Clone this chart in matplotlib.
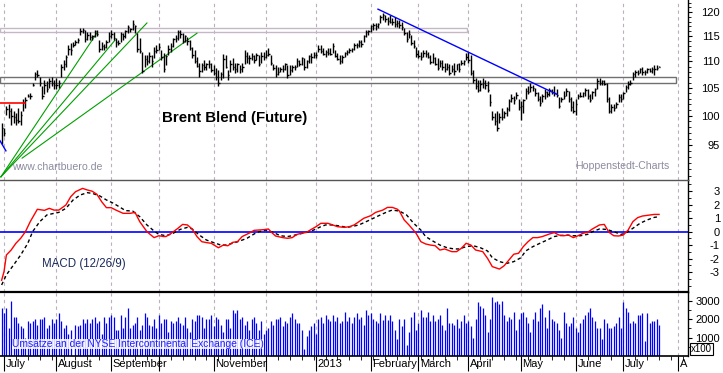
import numpy as np
import pandas as pd
import matplotlib
matplotlib.use("Agg")
import matplotlib.pyplot as plt
from matplotlib.patches import Rectangle
from matplotlib.ticker import FixedLocator, NullFormatter, FixedFormatter

plt.rcParams['font.family'] = ['Liberation Sans', 'DejaVu Sans']

# ---------------- data ----------------
first_session = "2012-06-29"
last_axis_day = "2013-08-09"

high_jul12 = [98.8, 97.9, 101.8, 102.1, 101.3, 100.9, 100.5, 101.3, 100.8, 103.0, 103.4, 103.9, 104.0, 106.0, 108.0, 108.3, 107.1, 105.3, 106.5, 106.2, 106.9, 107.1, 106.5]
low_jul12 = [95.2, 96.5, 100.1, 99.6, 98.4, 98.8, 98.4, 98.8, 98.4, 100.8, 101.3, 103.4, 103.0, 105.3, 106.5, 107.0, 105.3, 103.0, 103.9, 104.3, 105.0, 105.3, 104.8]
close_jul12 = [97.8, 97.0, 101.2, 100.8, 100.0, 99.8, 99.3, 99.0, 100.2, 102.4, 102.8, 103.6, 103.5, 105.6, 107.6, 107.5, 106.0, 103.5, 105.5, 104.8, 106.3, 106.0, 105.5]
high_aug12 = [106.9, 106.5, 109.6, 110.2, 111.2, 113.2, 113.6, 113.8, 114.2, 114.7, 116.7, 116.7, 116.3, 115.9, 115.9, 115.3, 116.3, 116.3, 114.2, 113.8, 113.4, 114.2, 115.9]
low_aug12 = [104.8, 105.0, 107.1, 108.3, 108.9, 111.2, 111.2, 112.8, 113.2, 113.6, 115.3, 115.7, 113.8, 114.2, 114.2, 114.2, 114.9, 115.0, 111.8, 112.2, 112.2, 112.6, 113.8]
close_aug12 = [105.5, 105.9, 109.0, 109.5, 110.8, 112.5, 112.2, 113.3, 113.8, 114.3, 116.0, 116.3, 114.5, 115.2, 114.8, 115.0, 116.0, 115.5, 112.5, 113.0, 112.8, 113.8, 115.0]
high_sep12 = [116.3, 115.9, 114.7, 114.2, 115.9, 115.7, 116.3, 117.3, 116.7, 118.3, 117.3, 115.7, 114.7, 111.8, 111.2, 111.2, 111.8, 111.2, 112.8, 113.2]
low_sep12 = [114.7, 114.2, 112.8, 113.2, 113.8, 114.2, 114.7, 115.7, 115.9, 116.3, 115.7, 111.8, 111.6, 107.7, 108.9, 109.3, 109.8, 108.9, 110.6, 111.6]
close_sep12 = [115.5, 114.7, 113.8, 113.7, 115.5, 115.0, 116.0, 116.8, 116.5, 117.5, 117.0, 112.5, 112.0, 108.2, 110.5, 110.0, 111.0, 110.0, 112.0, 112.2]
high_oct12 = [113.6, 112.2, 111.6, 111.2, 113.2, 113.6, 114.7, 115.3, 116.3, 116.3, 115.7, 115.3, 114.9, 114.2, 112.8, 112.2, 110.8, 109.8, 109.8, 110.2, 109.8, 110.2, 109.8]
low_oct12 = [112.2, 110.2, 108.0, 109.3, 111.2, 111.8, 112.8, 113.8, 114.2, 114.7, 113.6, 113.8, 113.2, 112.2, 110.6, 109.8, 108.9, 107.1, 108.0, 108.3, 108.3, 108.7, 108.0]
close_oct12 = [112.8, 110.8, 108.5, 111.0, 112.5, 113.0, 114.5, 114.6, 115.8, 115.5, 114.0, 115.0, 114.0, 112.6, 111.2, 110.0, 109.2, 108.2, 109.3, 109.0, 109.6, 109.5, 108.4]
high_nov12 = [109.3, 108.7, 108.3, 108.0, 111.4, 111.2, 108.3, 110.2, 110.6, 109.8, 109.8, 109.3, 109.8, 112.2, 111.8, 111.2, 111.6, 111.2, 111.6, 111.2, 111.8, 111.8]
low_nov12 = [107.4, 106.5, 105.3, 106.5, 106.9, 108.7, 106.5, 108.0, 108.3, 107.8, 108.0, 107.8, 108.0, 109.6, 109.8, 109.6, 110.2, 109.8, 110.2, 109.1, 109.8, 110.2]
close_nov12 = [107.8, 107.0, 105.9, 107.6, 110.5, 109.0, 107.5, 109.5, 109.0, 108.5, 109.5, 108.6, 108.9, 111.0, 110.7, 110.6, 111.0, 110.2, 111.3, 109.5, 111.0, 110.9]
high_dec12 = [112.2, 112.6, 111.2, 109.6, 109.3, 108.9, 108.9, 109.3, 109.8, 109.3, 109.3, 109.3, 109.3, 110.6, 110.2, 110.8, 110.6, 110.2, 111.2, 111.6, 111.8]
low_dec12 = [110.6, 111.0, 109.3, 108.3, 107.1, 107.4, 108.0, 108.0, 108.3, 106.9, 107.4, 108.0, 108.3, 108.9, 109.1, 109.3, 108.3, 108.7, 109.8, 109.8, 110.6]
close_dec12 = [111.3, 111.5, 109.8, 108.8, 107.6, 108.0, 108.6, 108.5, 109.5, 107.5, 108.3, 108.9, 108.9, 110.0, 109.6, 110.6, 109.0, 110.0, 111.0, 110.9, 111.3]
high_jan13 = [111.8, 113.2, 113.2, 112.6, 112.2, 112.6, 112.6, 113.6, 112.2, 111.6, 111.2, 111.2, 111.8, 112.2, 112.6, 112.6, 113.6, 113.6, 114.2, 114.2, 115.3, 116.3, 116.3]
low_jan13 = [110.6, 111.8, 111.6, 111.2, 110.8, 111.2, 111.2, 111.6, 110.8, 110.2, 109.6, 109.8, 110.8, 111.2, 111.6, 111.8, 112.2, 112.6, 112.8, 112.8, 113.8, 114.9, 115.3]
close_jan13 = [111.2, 112.5, 112.0, 111.5, 111.8, 111.6, 111.5, 113.0, 111.0, 110.5, 110.0, 110.9, 111.6, 111.9, 112.3, 112.4, 113.2, 113.3, 113.8, 113.5, 115.0, 115.8, 116.0]
high_feb13 = [117.3, 117.7, 117.7, 117.7, 119.4, 119.8, 119.4, 118.9, 119.4, 118.7, 118.9, 118.3, 118.3, 117.9, 116.7, 115.9, 116.3, 115.3, 114.2, 112.8]
low_feb13 = [115.9, 116.3, 116.3, 116.7, 117.7, 118.3, 117.9, 117.3, 117.7, 117.3, 116.9, 116.9, 116.7, 116.3, 115.3, 113.8, 114.7, 113.2, 112.6, 110.8]
close_feb13 = [117.0, 117.2, 117.0, 117.4, 118.9, 119.3, 118.5, 118.2, 118.0, 118.0, 117.5, 117.8, 117.2, 116.8, 115.6, 114.5, 115.5, 113.6, 113.0, 111.5]
high_mar13 = [112.2, 111.8, 112.2, 112.2, 111.8, 111.2, 111.6, 110.8, 110.6, 110.2, 110.2, 109.8, 109.8, 109.6, 109.3, 109.8, 109.6, 109.8, 110.2, 110.2, 111.6]
low_mar13 = [110.6, 110.2, 110.8, 110.8, 110.6, 109.6, 109.8, 109.3, 108.3, 108.9, 108.3, 108.0, 108.3, 107.4, 108.0, 107.4, 108.3, 108.0, 109.3, 109.3, 110.2]
close_mar13 = [111.0, 110.8, 111.6, 111.5, 110.8, 109.9, 110.6, 109.5, 108.8, 109.8, 109.0, 108.6, 109.0, 107.8, 108.6, 108.2, 109.5, 108.5, 109.8, 110.0, 110.8]
high_apr13 = [111.8, 111.2, 108.3, 106.9, 106.5, 106.5, 106.9, 106.5, 106.2, 103.9, 100.9, 100.5, 100.8, 100.5, 101.3, 100.9, 101.6, 103.0, 103.9, 103.6, 104.3, 103.0]
low_apr13 = [109.8, 107.4, 106.0, 104.8, 104.3, 104.5, 105.0, 104.8, 104.3, 101.8, 99.3, 98.3, 97.4, 98.8, 99.3, 99.6, 99.9, 100.8, 102.5, 102.1, 103.0, 101.0]
close_apr13 = [110.2, 107.8, 106.5, 105.4, 104.6, 105.8, 106.0, 105.5, 104.6, 102.5, 99.8, 99.0, 97.8, 99.8, 99.8, 100.5, 101.2, 102.6, 103.2, 102.8, 103.7, 101.5]
high_may13 = [102.6, 103.0, 105.0, 105.3, 106.0, 105.6, 105.0, 104.3, 103.6, 103.9, 104.8, 104.5, 105.0, 104.8, 105.3, 104.8, 103.4, 103.4, 104.5, 105.0, 104.5, 103.4, 102.6]
low_may13 = [99.3, 100.5, 103.0, 103.9, 104.3, 104.5, 103.6, 102.6, 101.8, 102.5, 103.0, 103.4, 103.6, 103.9, 103.6, 103.4, 101.3, 102.5, 103.0, 103.6, 102.5, 100.9, 100.5]
close_may13 = [101.8, 102.8, 104.5, 104.2, 105.2, 105.0, 104.0, 103.0, 102.2, 103.5, 104.2, 103.8, 104.6, 104.3, 104.0, 103.7, 101.8, 102.9, 103.6, 104.4, 103.0, 101.5, 100.9]
high_jun13 = [103.0, 103.9, 104.3, 104.3, 105.0, 104.8, 103.9, 104.5, 105.0, 106.9, 106.9, 106.5, 106.5, 106.0, 103.4, 102.1, 102.1, 102.5, 103.9, 103.9]
low_jun13 = [100.1, 103.0, 103.4, 103.4, 103.6, 103.0, 102.5, 103.0, 103.6, 104.8, 105.6, 105.6, 105.6, 102.5, 100.5, 100.5, 100.8, 101.3, 102.5, 102.5]
close_jun13 = [102.0, 103.6, 103.5, 104.0, 104.6, 103.5, 102.8, 104.2, 104.8, 106.3, 106.0, 106.2, 105.8, 103.0, 100.9, 101.6, 101.3, 102.1, 103.3, 103.0]
high_jul13 = [104.3, 105.6, 106.2, 106.5, 108.0, 108.3, 108.3, 108.7, 108.9, 108.3, 108.7, 108.7, 108.9, 109.3, 109.3, 109.1]
low_jul13 = [103.0, 104.3, 104.8, 105.6, 106.5, 107.1, 107.4, 107.8, 107.4, 107.4, 107.8, 108.0, 107.8, 107.4, 108.3, 108.9]
close_jul13 = [104.0, 105.1, 105.8, 106.0, 107.6, 107.9, 107.8, 108.5, 107.9, 108.0, 108.5, 108.2, 108.6, 108.6, 108.8, 109.0]

volume = [
    2600, 2300, 2600, 1500, 3000, 2100, 2100, 1800, 1600, 1500, 1000, 1900, 1800, 1900, 2000, 1700, 2000, 2000, 2100, 1500, 1700, 2000, 1800,
    2000, 2300, 1900, 1500, 1700, 1200, 1400, 0, 1700, 1600, 1700, 2000, 1800, 2000, 1800, 2000, 2100, 1800, 1900, 1200, 2100, 1800, 2100,
    2200, 2100, 1400, 1400, 2200, 1500, 2100, 2600, 1500, 1700, 1800, 2100, 1400, 1700, 2300, 2100, 1700, 1600, 2000, 1500,
    2200, 1800, 2000, 2000, 1300, 1900, 1800, 1900, 2100, 1800, 1700, 2100, 1500, 1300, 2000, 1900, 2200, 2200, 2100, 1500, 2000, 2000, 2200,
    1600, 2100, 2000, 1700, 1300, 2000, 2000, 1500, 2500, 2300, 2500, 2000, 2100, 1700, 1900, 1400, 2000, 2100, 1800, 1400, 1900, 1200,
    1400, 1500, 1900, 1700, 2000, 2000, 2100, 1600, 1900, 1800, 2100, 2300, 2000, 1800, 1800, 1400, 400, 1100, 1400, 1600, 1800,
    1200, 2000, 2100, 1800, 2200, 2000, 1900, 2200, 1900, 2100, 1800, 1900, 2400, 1900, 2100, 1800, 2100, 2300, 2000, 2100, 1700, 2500, 2200,
    2300, 2000, 1900, 1800, 2300, 1950, 2200, 1950, 2200, 1900, 1400, 900, 2000, 1600, 2000, 600, 1300, 2100, 2400, 1400,
    1800, 2500, 2100, 2100, 2400, 1900, 2200, 1900, 2000, 2200, 1700, 1400, 2600, 1800, 1800, 1700, 2000, 1500, 1900, 2200, 1800,
    1900, 1600, 1000, 2000, 2900, 2700, 2600, 2200, 1300, 2000, 3200, 2900, 3000, 2800, 3000, 2200, 1900, 2100, 2000, 2400, 1400, 2000,
    2300, 2400, 2100, 1800, 1300, 2000, 2400, 1900, 2600, 2800, 2100, 1500, 2500, 2000, 1900, 1800, 1400, 1000, 2400, 1800, 1600, 1800, 2100,
    1500, 1300, 1800, 2000, 2200, 2400, 2600, 2100, 1900, 1500, 1500, 900, 2000, 1800, 1500, 1500, 1600, 1800, 2100, 1500,
    2900, 2600, 2400, 1800, 1900, 1800, 2200, 2200, 2300, 800, 2300, 1800, 1900, 1900, 2000, 1700,
]

# MACD (session number, value)
macd_session = [0, 1, 2, 4, 6, 8, 10, 12, 14, 15, 18, 20, 22, 24, 27, 29, 31, 34, 36, 38, 40, 42, 44, 46, 48, 51, 54, 56, 58, 61,
                64, 66, 68, 69, 71, 74, 76, 78, 80, 82, 84, 86, 88, 91, 93, 95, 97, 99, 101, 104, 106, 110, 112, 113, 115, 118,
                120, 122, 124, 126, 128, 130, 132, 134, 137, 139, 141, 144, 146, 148, 150, 152, 155, 157, 160, 162, 164, 166, 167,
                169, 171, 174, 176, 178, 180, 182, 184, 186, 189, 191, 193, 195, 197, 199, 202, 204, 206, 209, 211, 213, 215, 217,
                219, 221, 223, 225, 227, 230, 232, 234, 236, 238, 240, 242, 244, 246, 248, 251, 253, 255, 257, 259, 261, 263, 265,
                267, 269, 272, 274, 276]
macd_value = [-3.6, -2.96, -1.73, -1.36, -0.86, -0.49, 0.0, 0.74, 1.36, 1.66, 1.58, 1.73, 1.6, 1.6, 1.98, 2.59, 2.96, 3.21, 3.09,
              3.0, 2.77, 2.22, 1.78, 1.78, 1.6, 1.36, 1.36, 1.43, 0.74, 0.0, -0.44, -0.3, -0.36, -0.36, -0.15, 0.25, 0.54, 0.5,
              0.2, -0.36, -0.74, -0.81, -0.86, -1.19, -1.0, -1.04, -0.79, -0.74, -0.36, -0.1, 0.1, 0.15, 0.2, 0.0, -0.32, -0.44,
              -0.49, -0.44, -0.2, -0.12, -0.05, 0.17, 0.37, 0.62, 0.62, 0.5, 0.37, 0.32, 0.37, 0.5, 0.74, 0.99, 1.19, 1.43, 1.6,
              1.8, 1.8, 1.68, 1.53, 0.87, 0.5, -0.12, -0.74, -0.91, -0.99, -1.04, -1.36, -1.28, -1.48, -1.48, -1.23, -0.86, -0.99,
              -1.36, -1.48, -1.98, -2.59, -2.77, -2.52, -2.1, -1.67, -1.6, -1.11, -0.74, -0.44, -0.44, -0.36, -0.17, -0.07, -0.25,
              -0.3, -0.25, -0.44, -0.3, -0.12, -0.05, 0.2, 0.5, 0.54, -0.05, -0.3, -0.32, -0.25, 0.12, 0.74, 1.04, 1.16, 1.23,
              1.28, 1.28]
signal_session = [0, 2, 5, 8, 11, 13, 16, 19, 22, 24, 27, 30, 33, 36, 38, 41, 44, 47, 50, 52, 55, 58, 61, 64, 66, 69, 72, 75, 78,
                  80, 83, 86, 89, 92, 94, 97, 100, 103, 106, 108, 111, 114, 117, 120, 122, 125, 128, 131, 134, 136, 139, 142, 145,
                  148, 150, 153, 156, 159, 162, 164, 167, 170, 173, 176, 178, 181, 184, 187, 190, 192, 195, 198, 201, 204, 206, 209,
                  212, 215, 218, 220, 223, 226, 229, 232, 234, 237, 240, 243, 246, 248, 251, 254, 257, 260, 262, 265, 268, 271, 274,
                  276]
signal_value = [-3.95, -3.2, -2.47, -1.73, -0.86, 0.0, 0.74, 1.24, 1.36, 1.43, 1.73, 2.35, 2.72, 2.89, 2.84, 2.67, 2.35, 2.1, 1.78,
                1.56, 1.53, 1.11, 0.5, 0.05, -0.2, -0.3, -0.12, 0.17, 0.32, 0.2, -0.25, -0.62, -0.81, -0.99, -0.99, -0.86, -0.69,
                -0.49, -0.17, 0.0, 0.12, -0.05, -0.3, -0.36, -0.3, -0.17, -0.05, 0.12, 0.37, 0.5, 0.5, 0.42, 0.32, 0.42, 0.5, 0.74,
                0.99, 1.24, 1.48, 1.6, 1.53, 1.24, 0.62, 0.12, -0.36, -0.69, -0.99, -1.19, -1.28, -1.28, -1.11, -1.04, -1.19, -1.43,
                -1.93, -2.22, -2.35, -2.22, -1.93, -1.43, -1.11, -0.86, -0.62, -0.36, -0.3, -0.25, -0.3, -0.3, -0.2, 0.0, 0.2, 0.17,
                0.0, -0.2, -0.12, 0.25, 0.62, 0.87, 1.06, 1.11]

month_labels = ["July", "August", "September", "", "November", "", "2013", "February", "March", "April", "May", "June", "July", "A"]

# drawing annotations (session number, price)
fan_lines = [((-0.3, 89.8), (40.0, 115.65)), ((-0.3, 89.8), (47.6, 114.2)),
             ((-0.3, 89.8), (61.0, 117.7)), ((8.6, 92.8), (82.0, 115.6))]
trend_line = ((158.0, 120.6), (233.2, 103.8))
small_blue = ((-0.7, 95.7), (1.8, 94.0))
red_level = ((-0.7, 9.8), 102.3)
upper_band = ((-0.7, 195.4), (115.8, 116.6))
lower_band = ((-0.7, 283.1), (105.9, 107.0))

# ---------------- assemble ----------------
high = np.array(high_jul12 + high_aug12 + high_sep12 + high_oct12 + high_nov12 + high_dec12 + high_jan13 +
                high_feb13 + high_mar13 + high_apr13 + high_may13 + high_jun13 + high_jul13)
low = np.array(low_jul12 + low_aug12 + low_sep12 + low_oct12 + low_nov12 + low_dec12 + low_jan13 +
               low_feb13 + low_mar13 + low_apr13 + low_may13 + low_jun13 + low_jul13)
close = np.array(close_jul12 + close_aug12 + close_sep12 + close_oct12 + close_nov12 + close_dec12 + close_jan13 +
                 close_feb13 + close_mar13 + close_apr13 + close_may13 + close_jun13 + close_jul13)
n = len(high)
sess = np.arange(n)
vol = np.array(volume[:n])

cal = pd.bdate_range(first_session, last_axis_day)
month_starts = [i for i in range(1, len(cal)) if cal[i].month != cal[i - 1].month]
mondays = [i for i in range(len(cal)) if cal[i].weekday() == 0]

# ---------------- figure ----------------
W, H = 723, 373
fig = plt.figure(figsize=(W / 100, H / 100), dpi=100)
fig.patch.set_facecolor('white')
right_px = 688
ax1 = fig.add_axes([0, 193 / H, right_px / W, 180 / H])
ax2 = fig.add_axes([0, 81 / H, right_px / W, 112 / H])
ax3 = fig.add_axes([0, 17 / H, right_px / W, 64 / H])

xlim = (-0.68, 288.15)
grid_col = '#bcb0bc'
for ax in (ax1, ax2, ax3):
    ax.set_xlim(*xlim)
    ax.set_facecolor('none')
    for s in ('left', 'top'):
        ax.spines[s].set_visible(False)
    ax.spines['right'].set_color('black')
    ax.spines['right'].set_linewidth(1.0)
    ax.yaxis.tick_right()
    ax.tick_params(axis='y', which='major', direction='out', length=3, width=0.8, labelsize=8,
                   pad=20, colors='black')
    ax.tick_params(axis='y', which='minor', direction='out', length=1.8, width=0.6)
    for m in month_starts:
        ax.axvline(m, color=grid_col, lw=0.8, ls=(0, (3, 3)), zorder=0)
    ax.tick_params(axis='x', which='both', bottom=False, labelbottom=False)

ax1.spines['bottom'].set_visible(False)
ax2.spines['top'].set_visible(True)
ax2.spines['top'].set_color('#555555')
ax2.spines['top'].set_linewidth(1.0)
ax2.spines['bottom'].set_color('black')
ax2.spines['bottom'].set_linewidth(1.6)
ax3.spines['bottom'].set_color('black')
ax3.spines['bottom'].set_linewidth(1.2)

# price panel
ax1.set_yscale('log')
ax1.set_ylim(89.3, 122.56)
ax1.yaxis.set_major_locator(FixedLocator([95, 100, 105, 110, 115, 120]))
ax1.yaxis.set_major_formatter(FixedFormatter(['95', '100', '105', '110', '115', '120']))
ax1.yaxis.set_minor_locator(FixedLocator(list(range(90, 123))))
ax1.yaxis.set_minor_formatter(NullFormatter())

ax1.add_patch(Rectangle((upper_band[0][0], upper_band[1][0]), upper_band[0][1] - upper_band[0][0],
                        upper_band[1][1] - upper_band[1][0], fill=False, edgecolor='#c4b8c4', lw=1.0, zorder=1))
ax1.add_patch(Rectangle((lower_band[0][0], lower_band[1][0]), lower_band[0][1] - lower_band[0][0],
                        lower_band[1][1] - lower_band[1][0], fill=False, edgecolor='#707070', lw=1.0, zorder=1))

ax1.vlines(sess, low, high, color='black', lw=1.0, zorder=3)
ax1.hlines(close, sess, sess + 0.6, color='black', lw=1.0, zorder=3)

for (p0, p1) in fan_lines:
    ax1.plot([p0[0], p1[0]], [p0[1], p1[1]], color='#00a000', lw=0.8, zorder=2)
ax1.plot([trend_line[0][0], trend_line[1][0]], [trend_line[0][1], trend_line[1][1]], color='#0000ff', lw=1.0, zorder=4)
ax1.plot([small_blue[0][0], small_blue[1][0]], [small_blue[0][1], small_blue[1][1]], color='#0000ff', lw=1.0, zorder=4)
ax1.plot([red_level[0][0], red_level[0][1]], [red_level[1], red_level[1]], color='#ff0000', lw=1.2, zorder=4)

# MACD panel
ax2.set_ylim(-4.47, 3.83)
ax2.yaxis.set_major_locator(FixedLocator([-3, -2, -1, 0, 1, 2, 3]))
ax2.yaxis.set_major_formatter(FixedFormatter(['-3', '-2', '-1', '0', '1', '2', '3']))
ax2.yaxis.set_minor_locator(FixedLocator([-4, -3.5, -2.5, -1.5, -0.5, 0.5, 1.5, 2.5, 3.5]))
ax2.yaxis.set_minor_formatter(NullFormatter())
ax2.axhline(0, color='#0000ff', lw=1.2, zorder=1)
ax2.plot(signal_session, signal_value, color='black', lw=1.0, ls=(0, (2.5, 2)), zorder=2)
ax2.plot(macd_session, macd_value, color='#ff0000', lw=1.0, zorder=3)

# volume panel
ax3.set_ylim(0, 3460)
ax3.yaxis.set_major_locator(FixedLocator([1000, 2000, 3000]))
ax3.yaxis.set_major_formatter(FixedFormatter(['1000', '2000', '3000']))
ax3.yaxis.set_minor_locator(FixedLocator([500, 1500, 2500]))
ax3.yaxis.set_minor_formatter(NullFormatter())
ax3.vlines(sess, 0, vol, color='#0000ff', lw=0.9, zorder=2)

for ax in (ax1, ax2, ax3):
    for lbl in ax.get_yticklabels():
        lbl.set_horizontalalignment('right')

# bottom time axis
ax3.set_xticks(month_starts)
ax3.set_xticks(mondays, minor=True)
ax3.tick_params(axis='x', which='major', bottom=True, direction='out', length=11, width=0.8, labelbottom=False)
ax3.tick_params(axis='x', which='minor', bottom=True, direction='out', length=3, width=0.6)
for m, lab in zip(month_starts, month_labels):
    if lab:
        ax3.annotate(lab, xy=(m, 0), xycoords=('data', 'axes fraction'), xytext=(1.2, -2.0),
                     textcoords='offset points', ha='left', va='top', fontsize=8, color='black',
                     annotation_clip=False)

# texts
def fx(px):
    return px / W

def fy(py):
    return 1 - py / H

fig.text(fx(162), fy(118), "Brent Blend (Future)", fontsize=10.8, fontweight='bold', ha='left', va='center', color='black')
fig.text(fx(12), fy(167), "www.chartbuero.de", fontsize=7.6, ha='left', va='center', color='#8c8ca0')
fig.text(fx(575), fy(166), "Hoppenstedt-Charts", fontsize=7.6, ha='left', va='center', color='#8c8ca0')
fig.text(fx(42), fy(264), "MACD (12/26/9)", fontsize=8.3, ha='left', va='center', color='#1a2a5a')
fig.text(fx(12), fy(344), "Umsätze an der NYSE Intercontinental Exchange (ICE)", fontsize=7.4, ha='left', va='center',
         color='#2020ff', bbox=dict(facecolor='white', edgecolor='none', pad=0.3, alpha=0.85))
fig.text(fx(691), fy(349), "x100", fontsize=7, ha='left', va='center', color='black',
         bbox=dict(facecolor='white', edgecolor='black', lw=0.8, pad=1.0))

fig.savefig("out.png", dpi=100)
